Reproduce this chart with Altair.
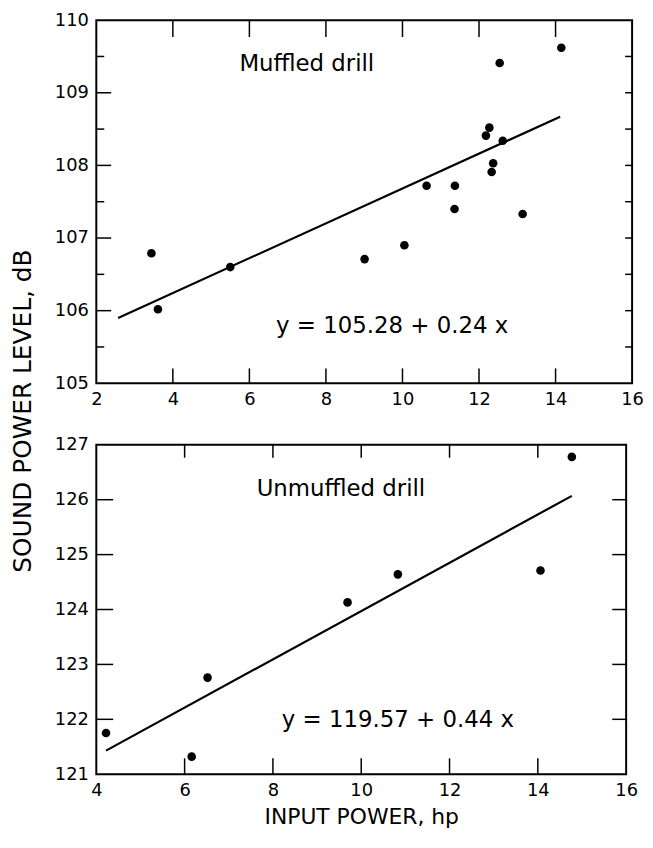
import altair as alt
import pandas as pd

# ---------------- data ----------------
# Muffled drill
muf_x = [3.44, 3.61, 5.50, 9.01, 10.05, 10.63, 11.37, 11.36, 12.18, 12.27, 12.62, 12.37, 12.33, 12.54, 13.14, 14.15]
muf_y = [106.79, 106.02, 106.60, 106.71, 106.90, 107.72, 107.72, 107.40, 108.41, 108.52, 108.34, 108.03, 107.91, 109.41, 107.33, 109.62]
muf_fit_x = [2.57, 14.12]
muf_fit_y = [105.90, 108.67]
muf_label = "Muffled drill"
muf_eq = "y = 105.28 + 0.24 x"

# Unmuffled drill
unm_x = [4.22, 6.16, 6.52, 9.69, 10.83, 14.06, 14.77]
unm_y = [121.75, 121.32, 122.76, 124.13, 124.64, 124.71, 126.78]
unm_fit_x = [4.22, 14.77]
unm_fit_y = [121.43, 126.07]
unm_label = "Unmuffled drill"
unm_eq = "y = 119.57 + 0.44 x"

# axes
top_x_ticks = [2, 4, 6, 8, 10, 12, 14, 16]
top_y_ticks = [105, 106, 107, 108, 109, 110]
top_y_minor = [105.5, 106.5, 107.5, 108.5, 109.5]
bot_x_ticks = [4, 6, 8, 10, 12, 14, 16]
bot_y_ticks = [121, 122, 123, 124, 125, 126, 127]

X_TITLE = "INPUT POWER, hp"
Y_TITLE = ["SOUND POWER LEVEL, dB"]

FONT = "DejaVu Sans"
TOP_W, TOP_H = 540, 366
BOT_W, BOT_H = 534, 332


def panel(px, py, fx, fy, xticks, yticks, yminor, W, H, label, label_xy, eq, eq_xy,
          tick_len, xaxis, yaxis, extra=None):
    xdom = [xticks[0], xticks[-1]]
    ydom = [yticks[0], yticks[-1]]
    xs = alt.Scale(domain=xdom, nice=False, zero=False)
    ys = alt.Scale(domain=ydom, nice=False, zero=False)

    def X():
        return alt.X("x:Q", scale=xs, axis=xaxis)

    def Y():
        return alt.Y("y:Q", scale=ys, axis=yaxis)

    pts = pd.DataFrame({"x": px, "y": py})
    fit = pd.DataFrame({"x": fx, "y": fy})

    base = alt.Chart(pts).mark_circle(size=75, color="black", opacity=1).encode(x=X(), y=Y())
    line = alt.Chart(fit).mark_line(color="black", strokeWidth=2.2).encode(x=X(), y=Y())

    txt = pd.DataFrame({"x": [label_xy[0], eq_xy[0]], "y": [label_xy[1], eq_xy[1]],
                        "t": [label, eq]})
    texts = alt.Chart(txt).mark_text(font=FONT, fontSize=23, color="black").encode(
        x=X(), y=Y(), text="t:N")

    inner_x = list(xticks[1:-1])
    inner_y = list(yticks[1:-1])
    bl, tl, ll, rl, ml = tick_len

    dfx = pd.DataFrame({"x": inner_x})
    dfy = pd.DataFrame({"y": inner_y})
    layers = [base, line, texts]
    layers.append(alt.Chart(dfx).mark_rule(color="black", strokeWidth=1.5).encode(
        x=X(), y=alt.value(H), y2=alt.value(H - bl)))
    layers.append(alt.Chart(dfx).mark_rule(color="black", strokeWidth=1.5).encode(
        x=X(), y=alt.value(0), y2=alt.value(tl)))
    layers.append(alt.Chart(dfy).mark_rule(color="black", strokeWidth=1.5).encode(
        y=Y(), x=alt.value(0), x2=alt.value(ll)))
    right_vals = inner_y + (yminor or [])
    layers.append(alt.Chart(pd.DataFrame({"y": right_vals})).mark_rule(
        color="black", strokeWidth=1.5).encode(
        y=Y(), x=alt.value(W), x2=alt.value(W - rl)))
    if yminor:
        layers.append(alt.Chart(pd.DataFrame({"y": yminor})).mark_rule(
            color="black", strokeWidth=1.5).encode(
            y=Y(), x=alt.value(0), x2=alt.value(ml)))
    if extra is not None:
        layers.append(extra)
    return alt.layer(*layers).properties(width=W, height=H)


def xaxis_for(values, title):
    return alt.Axis(values=values, ticks=False, tickSize=0, domain=False, grid=False,
                    labelPadding=7, labelFlush=False, labelFontSize=18, labelFont=FONT,
                    labelColor="black", title=title, titleFont=FONT,
                    titleFontSize=22, titleFontWeight="normal", titlePadding=8,
                    titleColor="black", format="d")


def yaxis_for(values):
    return alt.Axis(values=values, ticks=False, tickSize=0, domain=False, grid=False,
                    labelPadding=8, labelFontSize=18, labelFont=FONT, labelColor="black",
                    labelFlush=False, format="d", title="")


# vertical y-axis title drawn as a text mark beside the top panel
ytitle = alt.Chart(pd.DataFrame({"t": Y_TITLE})).mark_text(
    font=FONT, fontSize=25, color="black", angle=270, align="center", baseline="middle"
).encode(x=alt.value(-74), y=alt.value(394), text="t:N")

top = panel(muf_x, muf_y, muf_fit_x, muf_fit_y, top_x_ticks, top_y_ticks, top_y_minor,
            TOP_W, TOP_H, muf_label, (7.5, 109.4), muf_eq, (9.73, 105.79),
            (15, 17, 15, 7, 8), xaxis_for(top_x_ticks, ""), yaxis_for(top_y_ticks),
            extra=ytitle)
bottom = panel(unm_x, unm_y, unm_fit_x, unm_fit_y, bot_x_ticks, bot_y_ticks, None,
               BOT_W, BOT_H, unm_label, (9.54, 126.19), unm_eq, (10.83, 121.99),
               (16, 13, 17, 14, 0), xaxis_for(bot_x_ticks, X_TITLE), yaxis_for(bot_y_ticks))

chart = alt.vconcat(top, bottom, spacing=62, bounds="flush").properties(
    padding={"left": 2, "top": -1, "right": 0, "bottom": 0}
).configure(background="white").configure_view(stroke="black", strokeWidth=2)

chart.save("out.html", embed_options={"renderer": "svg", "actions": False})
